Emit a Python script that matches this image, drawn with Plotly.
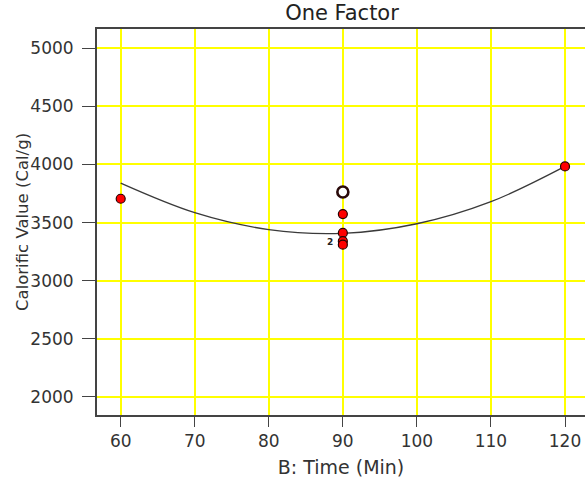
import plotly.graph_objects as go

# Design points (red) and the flagged point (open circle)
time_pts = [60, 90, 90, 90, 90, 120]
cal_pts = [3705, 3573, 3411, 3340, 3310, 3983]
open_time = [90]
open_cal = [3763]

# Model prediction curve
curve_time = [60, 70, 80, 90, 100, 110, 120]
curve_cal = [3839, 3585, 3440, 3408, 3490, 3680, 3983]

x_ticks = [60, 70, 80, 90, 100, 110, 120]
y_ticks = [2000, 2500, 3000, 3500, 4000, 4500, 5000]

font_family = "DejaVu Sans, sans-serif"

fig = go.Figure()
fig.add_trace(go.Scatter(
    x=curve_time, y=curve_cal, mode="lines", line=dict(color="#3a3a3a", width=1.3, shape="spline"),
    hoverinfo="skip", showlegend=False))
fig.add_trace(go.Scatter(
    x=time_pts, y=cal_pts, mode="markers",
    marker=dict(color="#ff0000", size=9, line=dict(color="#2a0000", width=1.2)),
    showlegend=False))
fig.add_trace(go.Scatter(
    x=open_time, y=open_cal, mode="markers",
    marker=dict(color="#ffffff", size=11, line=dict(color="#2a0a0a", width=2.6)),
    showlegend=False))

fig.add_annotation(x=90, y=3340, text="<b>2</b>", showarrow=False, xshift=-13, yshift=-1,
                   font=dict(size=9, color="#222", family=font_family))
fig.add_annotation(xref="paper", yref="paper", x=(22 - 97) / 488, y=0.5, xanchor="center", yanchor="middle",
                   text="Calorific Value (Cal/g)",
                   textangle=-90, showarrow=False, font=dict(size=16.5, color="#333", family=font_family))

fig.update_layout(
    width=585, height=481,
    margin=dict(l=97, r=0, t=29, b=66),
    paper_bgcolor="white", plot_bgcolor="white",
    title=dict(text="One Factor", x=342 / 585, xanchor="center", y=1 - 13 / 481, yanchor="middle",
               font=dict(size=21, color="#222", family=font_family)),
    font=dict(family=font_family, color="#333"),
)
fig.update_xaxes(
    range=[56.8, 122.7], tickvals=x_ticks, ticks="outside", ticklen=10, tickcolor="#444",
    showline=True, linecolor="#444", linewidth=2, mirror=True,
    showgrid=True, gridcolor="#ffff00", gridwidth=1.5, zeroline=False,
    tickfont=dict(size=17, color="#333"),
    title=dict(text="B: Time (Min)", font=dict(size=19, color="#333"), standoff=10),
)
fig.update_yaxes(
    range=[1845, 5165], tickvals=y_ticks, ticks="outside", ticklen=13, tickcolor="#444",
    showline=True, linecolor="#444", linewidth=2, ticklabelstandoff=5,
    showgrid=True, gridcolor="#ffff00", gridwidth=1.5, zeroline=False,
    tickfont=dict(size=17, color="#333"),
)

fig.write_html("out.html", config={"displayModeBar": False},
               post_script="document.body.style.margin='0px';")
